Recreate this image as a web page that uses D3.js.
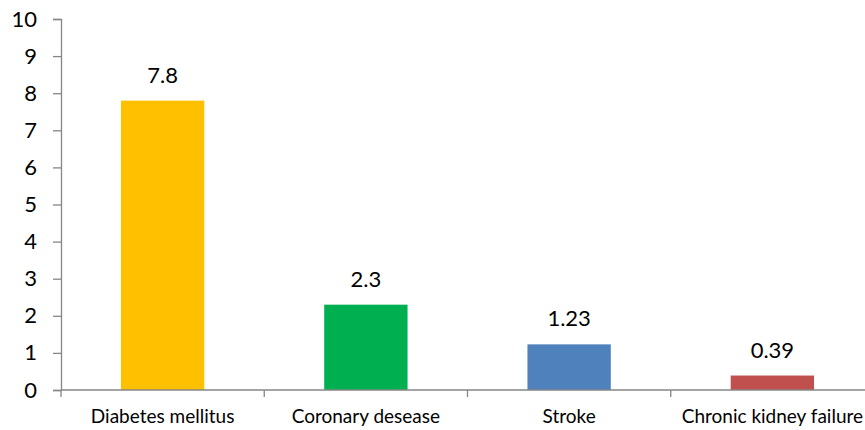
<!DOCTYPE html>
<html>
<head>
<meta charset="utf-8">
<script src="https://cdn.jsdelivr.net/npm/d3@7"></script>
<style>
  body { margin: 0; background: #fff; }
  svg { display: block; font-family: Lato, "Open Sans", sans-serif; }
</style>
</head>
<body>
<svg width="865" height="430"></svg>
<script>
// data
var categories = ['Diabetes mellitus', 'Coronary desease', 'Stroke', 'Chronic kidney failure'];
var values = [7.8, 2.3, 1.23, 0.39];
var valueLabels = ['7.8', '2.3', '1.23', '0.39'];
var barColors = ['#FFC000', '#00B050', '#4F81BD', '#C0504D'];
var yTicks = [0, 1, 2, 3, 4, 5, 6, 7, 8, 9, 10];

const svg = d3.select('svg')
const plotLeft = 61, plotRight = 874, plotTop = 19, plotBottom = 390
const axisColor = '#868686'

const x = d3.scaleBand()
  .domain(categories)
  .range([plotLeft, plotRight])
  .paddingInner(0)
  .paddingOuter(0)

const y = d3.scaleLinear()
  .domain([0, 10])
  .range([plotBottom, plotTop])

// y axis
const yAxis = svg.append('g')
  .attr('transform', 'translate(' + plotLeft + ',0)')
  .call(d3.axisLeft(y).tickValues(yTicks).tickSize(8).tickPadding(16).tickFormat(d3.format('d')))
yAxis.select('.domain').attr('stroke', axisColor).attr('stroke-width', 1.3)
yAxis.selectAll('.tick line').attr('stroke', axisColor).attr('stroke-width', 1.3)
yAxis.selectAll('.tick text')
  .attr('fill', '#000')
  .attr('font-size', 22)
  .attr('font-family', 'Lato, sans-serif')

// bars
const barW = x.bandwidth() * 0.41
svg.append('g')
  .selectAll('rect')
  .data(values)
  .enter().append('rect')
    .attr('x', (d, i) => x(categories[i]) + x.bandwidth() / 2 - barW / 2)
    .attr('y', d => y(d))
    .attr('width', barW)
    .attr('height', d => y(0) - y(d))
    .attr('fill', (d, i) => barColors[i])

// value labels
svg.append('g')
  .selectAll('text')
  .data(values)
  .enter().append('text')
    .attr('x', (d, i) => x(categories[i]) + x.bandwidth() / 2)
    .attr('y', d => y(d) - 18)
    .attr('text-anchor', 'middle')
    .attr('font-size', 22)
    .attr('fill', '#000')
    .text((d, i) => valueLabels[i])

// x axis
const xg = svg.append('g')
xg.append('line')
  .attr('x1', plotLeft).attr('x2', plotRight)
  .attr('y1', plotBottom).attr('y2', plotBottom)
  .attr('stroke', axisColor).attr('stroke-width', 1.3)
xg.selectAll('line.tk')
  .data(categories)
  .enter().append('line')
    .attr('class', 'tk')
    .attr('x1', d => x(d)).attr('x2', d => x(d))
    .attr('y1', plotBottom).attr('y2', plotBottom + 7)
    .attr('stroke', axisColor).attr('stroke-width', 1.3)
xg.selectAll('text.lbl')
  .data(categories)
  .enter().append('text')
    .attr('class', 'lbl')
    .attr('x', d => x(d) + x.bandwidth() / 2)
    .attr('y', 423)
    .attr('text-anchor', 'middle')
    .attr('font-size', 19)
    .attr('fill', '#000')
    .text(d => d)
</script>
</body>
</html>
